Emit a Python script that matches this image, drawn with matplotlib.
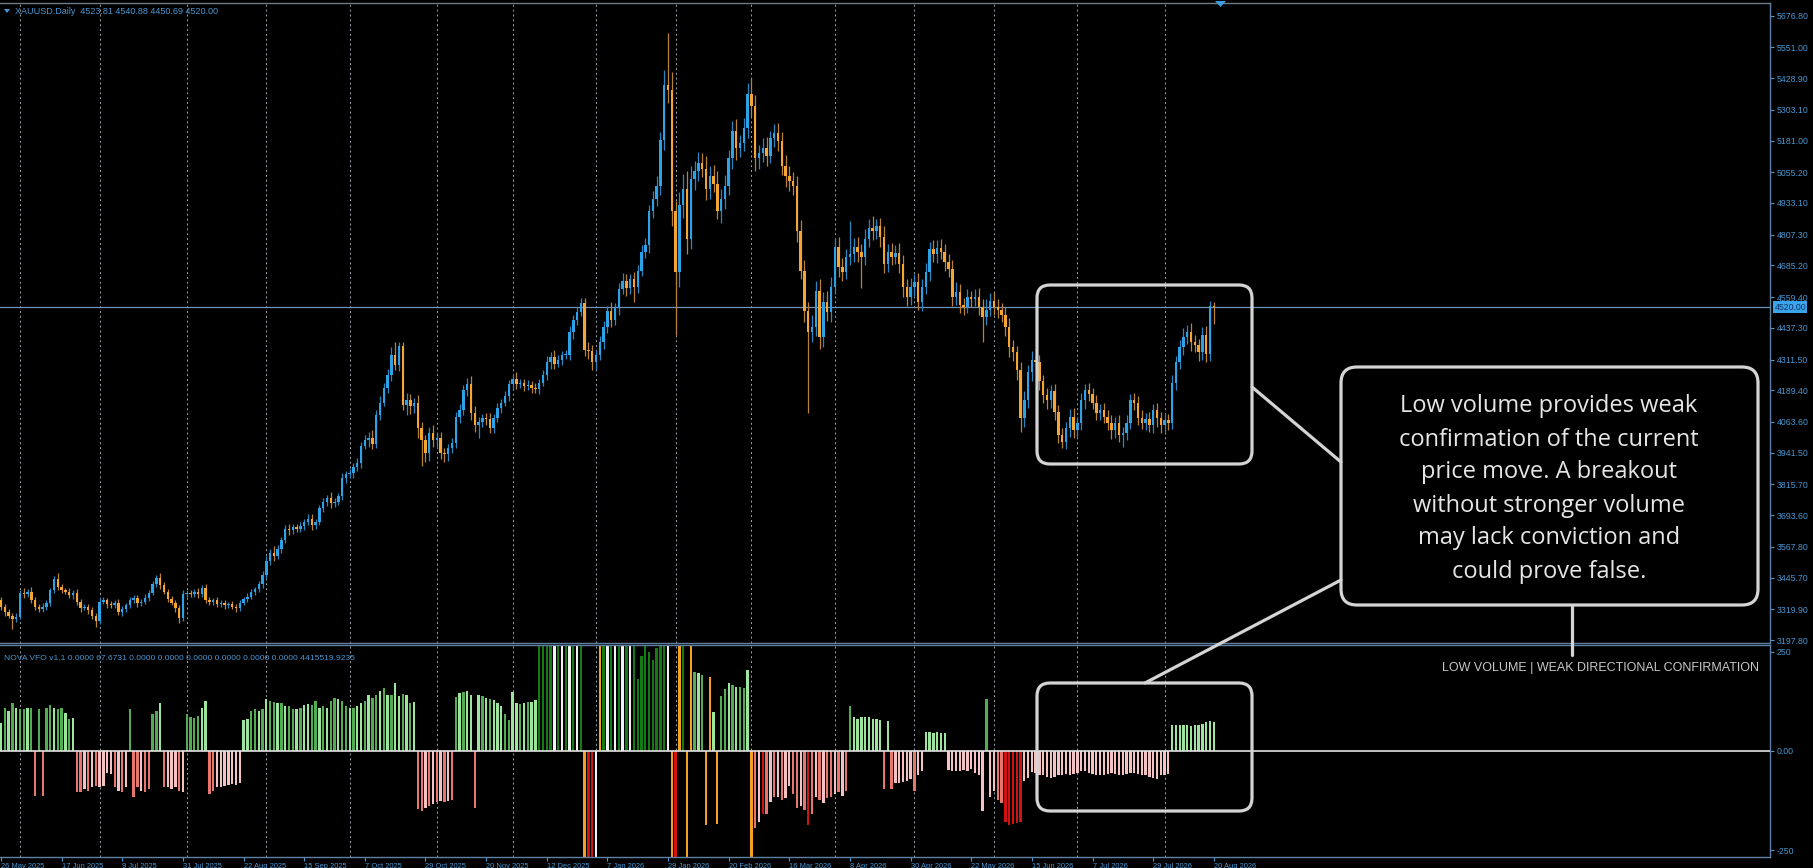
import matplotlib.pyplot as plt
from matplotlib.patches import FancyBboxPatch, Polygon
from matplotlib.lines import Line2D
from matplotlib.transforms import IdentityTransform, blended_transform_factory

# ---- price data (daily bars, index 0 = 26 May 2025) ----
closes = [
    3330, 3310, 3295, 3280, 3290, 3385, 3380, 3390, 3355, 3330,
    3320, 3330, 3345, 3395, 3440, 3410, 3395, 3390, 3375, 3385,
    3350, 3325, 3330, 3315, 3295, 3275, 3350, 3355, 3340, 3335,
    3345, 3310, 3320, 3335, 3355, 3365, 3345, 3350, 3365, 3385,
    3420, 3445, 3415, 3390, 3360, 3345, 3325, 3285, 3380, 3385,
    3380, 3390, 3380, 3405, 3355, 3350, 3355, 3340, 3345, 3335,
    3340, 3330, 3325, 3345, 3360, 3370, 3390, 3400, 3420, 3455,
    3510, 3545, 3530, 3560, 3595, 3640, 3635, 3645, 3640, 3650,
    3665, 3680, 3655, 3665, 3720, 3745, 3760, 3740, 3745, 3770,
    3840, 3855, 3860, 3885, 3900, 3970, 3990, 4000, 3975, 4090,
    4140, 4200, 4250, 4330, 4290, 4365, 4130, 4150, 4125, 4140,
    4040, 3990, 3940, 4020, 3990, 4000, 3940, 3935, 3960, 3980,
    4085, 4110, 4190, 4215, 4100, 4050, 4065, 4080, 4075, 4040,
    4080, 4120, 4140, 4165, 4215, 4235, 4215, 4220, 4205, 4210,
    4200, 4195, 4220, 4250, 4300, 4320, 4295, 4310, 4330, 4330,
    4420, 4470, 4500, 4535, 4350, 4345, 4300, 4330, 4380, 4440,
    4505, 4470, 4515, 4590, 4625, 4595, 4630, 4600, 4665, 4740,
    4765, 4900, 4950, 5000, 5185, 5400, 5380, 4900, 4660, 4925,
    4990, 4790, 5030, 5060, 5090, 5070, 4990, 5040, 5010, 4900,
    4950, 5000, 5110, 5220, 5150, 5170, 5230, 5365, 5320, 5110,
    5130, 5150, 5120, 5190, 5210, 5180, 5080, 5040, 5020, 5000,
    4820, 4665, 4505, 4420, 4440, 4585, 4400, 4540, 4500, 4600,
    4760, 4680, 4660, 4720, 4730, 4760, 4740, 4720, 4790, 4835,
    4820, 4840, 4800, 4690, 4740, 4720, 4735, 4690, 4600, 4560,
    4600, 4620, 4540, 4600, 4660, 4750, 4730, 4755, 4740, 4700,
    4670, 4560, 4580, 4530, 4520, 4560, 4550, 4560, 4520, 4480,
    4510, 4545, 4520, 4510, 4490, 4440, 4360, 4340, 4270, 4080,
    4150, 4260, 4310, 4300, 4225, 4170, 4150, 4185, 4105, 4010,
    3985, 4040, 4085, 4030, 4060, 4150, 4190, 4175, 4140, 4100,
    4110, 4085, 4060, 4030, 4060, 4010, 4020, 4060, 4150, 4140,
    4080, 4060, 4075, 4050, 4110, 4080, 4050, 4070, 4060, 4220,
    4300, 4360, 4400, 4420, 4380, 4370, 4340, 4410, 4335, 4523.81,
    4520.00,
]
first_open = 3355
opens = [first_open] + closes[:-1]

wick_up = [
    15, 10, 12, 10, 15, 12, 18, 10, 20, 12,
    10, 15, 12, 10, 12, 25, 12, 10, 15, 12,
    15, 10, 12, 10, 12, 10, 15, 12, 10, 12,
    10, 15, 12, 10, 15, 12, 10, 12, 15, 10,
    12, 10, 20, 12, 10, 12, 10, 12, 15, 12,
    10, 12, 15, 10, 15, 12, 10, 12, 10, 12,
    10, 12, 10, 12, 10, 15, 12, 10, 12, 15,
    20, 15, 25, 15, 12, 15, 20, 15, 12, 15,
    15, 18, 20, 15, 12, 18, 15, 25, 15, 12,
    20, 15, 18, 15, 20, 15, 20, 25, 30, 20,
    25, 20, 25, 30, 50, 15, 15, 30, 25, 20,
    30, 25, 20, 25, 30, 20, 25, 20, 15, 20,
    20, 25, 20, 25, 30, 25, 20, 15, 20, 25,
    15, 20, 15, 20, 15, 20, 25, 15, 15, 20,
    15, 20, 15, 20, 25, 20, 30, 20, 15, 20,
    25, 20, 20, 20, 20, 30, 25, 20, 25, 25,
    20, 35, 20, 25, 30, 25, 20, 30, 20, 25,
    30, 25, 30, 40, 30, 60, 210, 75, 40, 50,
    60, 70, 50, 40, 45, 40, 50, 40, 45, 50,
    40, 45, 35, 40, 45, 35, 40, 45, 65, 40,
    35, 40, 45, 30, 35, 40, 35, 45, 40, 35,
    40, 45, 40, 35, 50, 40, 45, 40, 45, 40,
    35, 40, 35, 30, 130, 35, 40, 30, 40, 35,
    45, 30, 35, 40, 30, 35, 30, 40, 35, 30,
    35, 30, 35, 30, 35, 30, 35, 30, 35, 30,
    30, 35, 40, 30, 25, 30, 25, 30, 35, 30,
    40, 30, 35, 30, 25, 30, 35, 30, 25, 30,
    35, 30, 35, 40, 30, 25, 30, 25, 30, 25,
    30, 25, 30, 35, 25, 30, 25, 30, 25, 30,
    25, 30, 25, 30, 25, 30, 25, 30, 25, 30,
    25, 30, 25, 30, 25, 30, 25, 30, 25, 30,
    25, 30, 35, 30, 35, 30, 25, 30, 35, 20,
    17.07,
]
wick_dn = [
    12, 15, 10, 37, 12, 10, 15, 12, 10, 15,
    12, 10, 15, 12, 10, 15, 12, 10, 12, 15,
    12, 15, 10, 12, 15, 25, 12, 10, 15, 12,
    10, 12, 15, 10, 12, 10, 15, 12, 10, 12,
    10, 12, 15, 10, 12, 10, 15, 20, 12, 10,
    12, 10, 15, 12, 10, 15, 12, 10, 12, 15,
    12, 10, 15, 12, 10, 12, 10, 12, 10, 15,
    12, 15, 20, 12, 15, 12, 20, 15, 12, 15,
    15, 12, 20, 15, 12, 15, 15, 20, 15, 12,
    15, 20, 15, 20, 15, 20, 15, 25, 20, 15,
    20, 15, 20, 25, 20, 25, 20, 40, 30, 25,
    40, 100, 35, 30, 25, 30, 25, 30, 25, 20,
    20, 25, 20, 25, 30, 25, 50, 20, 25, 20,
    20, 15, 20, 15, 20, 25, 20, 15, 20, 15,
    20, 15, 20, 15, 20, 25, 20, 15, 20, 15,
    20, 25, 20, 15, 25, 30, 30, 25, 20, 25,
    25, 30, 20, 25, 20, 30, 25, 60, 25, 20,
    25, 30, 25, 30, 35, 40, 50, 60, 250, 60,
    50, 60, 40, 45, 40, 35, 45, 40, 35, 30,
    45, 40, 35, 40, 45, 35, 30, 40, 45, 50,
    40, 35, 40, 30, 35, 40, 35, 45, 40, 35,
    40, 35, 45, 320, 40, 35, 45, 40, 35, 40,
    30, 40, 35, 30, 35, 30, 40, 125, 35, 30,
    35, 30, 40, 35, 30, 35, 30, 35, 40, 35,
    30, 35, 30, 35, 30, 35, 30, 35, 30, 35,
    30, 35, 30, 35, 30, 25, 30, 25, 30, 100,
    30, 25, 30, 35, 30, 35, 40, 35, 40, 55,
    35, 30, 35, 30, 35, 30, 35, 30, 35, 30,
    25, 30, 35, 30, 25, 30, 35, 30, 25, 30,
    30, 25, 30, 35, 30, 25, 45, 30, 25, 30,
    30, 25, 30, 25, 30, 35, 30, 25, 30, 25,
    30, 25, 30, 25, 35, 30, 35, 30, 35, 30,
    69.31,
]

# ---- NOVA VFO histogram ----
vfo = (
    [70, 109, 100, 121, 109, 105, 105, 109, 109] + [-113] + [105] + [-113]
    + [109, 115, 109, 105, 107, 96, 80, 84]
    + [-105, -105, -96, -100, -92, -88, -92, -88, -55, -59, -92, -100, -105, -92]
    + [105] + [-117, -92, -100, -105, -96] + [94, 100, 120]
    + [-92, -92, -96, -92, -100, -105] + [92, 85, 82, 88, 109, 126]
    + [-109, -100, -92, -90, -88, -85, -84, -85, -80]
    + [77, 80, 100, 105, 100, 105, 130, 126, 122, 121,
       121, 113, 113, 105, 105, 109, 115, 117, 115, 126,
       109, 113, 109, 126, 134, 130, 126, 113, 109, 109,
       113, 121, 126, 142, 134, 142, 150, 159, 142, 142,
       172, 138, 144, 142, 121, 124]
    + [-147, -151, -143, -138, -134, -130, -127, -130, -127, -125]
    + [135, 145, 148, 150, 140] + [-145]
    + [141, 138, 134, 131, 127, 120, 113, 92, 78, 148, 120, 118, 120, 122, 124, 127]
    + [300] * 12 + [-300, -300, -300, -300] + [300] + [300] * 9
    + [180, 240, 300, 250, 230, 260, 300, 300]
    + [300, -300, -300, 300, 300, -300, 300]
    + [200, 195, 190] + [-187, 187, 99, -184]
    + [138, 155, 170, 165, 162, 160, 158, 204] + [-270]
    + [-194, -180, -160, -159, -130, -117, -117, -124, -120, -89,
       -110, -145, -140, -150, -187, -159, -117, -125, -131, -120]
    + [-117, -110, -105, -115, -100]
    + [113, 85, 80, 85, 85, 85, 80, 80, 78] + [-96] + [75]
    + [-96, -82, -80, -78, -75, -70, -100, -60, -50]
    + [47, 47, 45, 47, 45, 45]
    + [-48, -50, -52, -50, -48, -52, -45, -55, -60, -152]
    + [131] + [-117, -100, -125, -131] + [-180, -187, -185, -183, -180]
    + [-75, -68, -54]
    + [-55, -60, -62, -65, -68, -66, -62, -60, -58, -60,
       -58, -56, -52, -50, -55, -58, -60, -62, -60, -58,
       -56, -58, -60, -62, -58, -55, -57, -58, -60, -62,
       -65, -68, -70, -62, -60, -58]
    + [64, 66, 64, 64, 66, 62, 64, 66, 68, 72, 75, 72]
)
vfo_kind = (
    "gmgmgmmgm" + "r" + "m" + "r" + "mmgmmgmg" + "rrprprpppprprp" + "m" + "rrprr"
    + "mmg" + "rppprp" + "mmmmgg" + "rrppppppp"
    + "ggmmgmgmmgmgmmgmggmmgmgmmgmmgmggmgmmgmgmggmgmg"
    + "rrprprprpr" + "mgmgg" + "r" + "gmgmgggmmggmgmgg"
    + "ddddwdwdwdwd" + "oRRw" + "o" + "dwdwdwdwd" + "dddddddd"
    + "woRodoo" + "mgm" + "oogo" + "mmgmgmmg" + "o"
    + "rpRrprprpprrprRrprpr" + "rprpr" + "mgggggggg" + "r" + "g"
    + "rppppprpp" + "gggggg" + "pppppppppp" + "m" + "pprr" + "RRRRR" + "ppp"
    + "p" * 36 + "g" * 12
)
kind_color = {'g': '#9de49d', 'm': '#52ad52', 'd': '#147a14', 'w': '#f2f2f2',
              'p': '#f4c2c2', 'r': '#e9766c', 'R': '#d21212', 'o': '#f5a020'}

price_ticks = [5676.80, 5551.00, 5428.90, 5303.10, 5181.00, 5055.20, 4933.10,
               4807.30, 4685.20, 4559.40, 4437.30, 4311.50, 4189.40, 4063.60,
               3941.50, 3815.70, 3693.60, 3567.80, 3445.70, 3319.90, 3197.80]
vfo_ticks = [250, 0, -250]
vfo_tick_labels = ['250', '0.00', '-250']
date_labels = ['26 May 2025', '17 Jun 2025', '9 Jul 2025', '31 Jul 2025', '22 Aug 2025',
               '15 Sep 2025', '7 Oct 2025', '29 Oct 2025', '20 Nov 2025', '12 Dec 2025',
               '7 Jan 2026', '29 Jan 2026', '20 Feb 2026', '16 Mar 2026', '8 Apr 2026',
               '30 Apr 2026', '22 May 2026', '15 Jun 2026', '7 Jul 2026', '29 Jul 2026',
               '20 Aug 2026']
date_bars = [16 * k for k in range(len(date_labels))]
month_start_bars = [5, 26, 49, 70, 92, 115, 135, 157, 178, 198, 220, 241, 262, 284, 307]
last_price = 4520.00

n = len(closes)
assert len(wick_up) == n and len(wick_dn) == n and len(vfo) == n and len(vfo_kind) == n

W, H = 1813, 868
AXC = '#4a97d2'
fig = plt.figure(figsize=(W / 100, H / 100), dpi=100, facecolor='black')


def fx(px):
    return px / W


def fy(py):
    return 1 - py / H


ax = fig.add_axes([0, fy(643), fx(1770), fy(3) - fy(643)])
ax2 = fig.add_axes([0, fy(857), fx(1770), fy(645) - fy(857)])
xl = (-1 / 3.79, 1769 / 3.79)

for a in (ax, ax2):
    a.set_facecolor('black')
    a.set_xlim(*xl)
    a.spines['left'].set_visible(False)
    for s in ('top', 'bottom', 'right'):
        a.spines[s].set_color('#5f80a3')
        a.spines[s].set_linewidth(1.0)
    a.yaxis.tick_right()
    a.tick_params(axis='y', direction='out', length=3, width=0.8, color=AXC,
                  labelcolor=AXC, labelsize=6.3, pad=2)
    for b in month_start_bars:
        a.axvline(b, color='#9aa6b2', lw=0.7, ls=(0, (2, 3)), zorder=0)
ax.spines['top'].set_color('#6f7c88')

# candles
idx = list(range(n))
bull = '#2ea2e6'
bear = '#f4a534'
body_col, wick_col, bot, hgt, highs, lows = [], [], [], [], [], []
for o, c, wu, wd in zip(opens, closes, wick_up, wick_dn):
    up = c >= o
    body_col.append(bull if up else bear)
    wick_col.append('#2a86c0' if up else '#b98334')
    bot.append(min(o, c))
    hgt.append(max(abs(c - o), 4))
    highs.append(max(o, c) + wu)
    lows.append(min(o, c) - wd)
ax.vlines(idx, lows, highs, colors=wick_col, lw=0.9, zorder=2)
ax.bar(idx, hgt, bottom=bot, width=0.64, color=body_col, linewidth=0, zorder=3)
ax.axhline(last_price, color='#6f93b8', lw=0.9, zorder=1)
ax.set_ylim(3185.9, 5727.2)
ax.set_yticks(price_ticks)
ax.set_yticklabels(['%.2f' % v for v in price_ticks], family='Liberation Sans')
ax.set_xticks([])
tr = blended_transform_factory(ax.transAxes, ax.transData)
ax.text(1.0025, last_price, '%.2f' % last_price, transform=tr, ha='left', va='center',
        fontsize=6.3, color='#0c3262', family='Liberation Sans',
        bbox=dict(facecolor='#3aa4ec', edgecolor='none', pad=0.9))

# VFO histogram
ax2.bar(idx, vfo, width=0.62, color=[kind_color[k] for k in vfo_kind], linewidth=0, zorder=2)
ax2.axhline(0, color='#e2e2e2', lw=1.2, zorder=3)
ax2.set_ylim(-267.6, 266.8)
ax2.set_yticks(vfo_ticks)
ax2.set_yticklabels(vfo_tick_labels, family='Liberation Sans')
ax2.set_xticks(date_bars)
ax2.set_xticklabels(date_labels, ha='left', family='Liberation Sans')
ax2.tick_params(axis='x', direction='out', length=3, width=0.8, color=AXC,
                labelcolor=AXC, labelsize=5.4, pad=1)

# header texts
fig.text(fx(15), fy(11), 'XAUUSD.Daily  4523.81 4540.88 4450.69 4520.00', color=AXC,
         fontsize=6.5, va='center', family='Liberation Sans')
fig.text(fx(4), fy(659), 'NOVA VFO v1.1 0.0000 67.6731 0.0000 0.0000 0.0000 0.0000 '
         '0.0000 0.0000 4415519.9235', color=AXC, fontsize=6.1, va='center',
         family='Liberation Sans')
idt = IdentityTransform()
fig.add_artist(Polygon([[4, H - 9], [10, H - 9], [7, H - 13]], closed=True,
                       facecolor=AXC, edgecolor='none', transform=idt))
fig.add_artist(Polygon([[1215, H - 1], [1226, H - 1], [1220.5, H - 7]], closed=True,
                       facecolor='#3a9ee0', edgecolor='none', transform=idt))

# annotation shapes (pixel coordinates)
GREY = '#d4d4d4'


def rbox(x0, y0, x1, y1, r, fc='none'):
    p = FancyBboxPatch((x0, H - y1), x1 - x0, y1 - y0,
                       boxstyle='round,pad=0,rounding_size=%d' % r,
                       facecolor=fc, edgecolor=GREY, lw=2.3, transform=idt)
    fig.add_artist(p)


def seg(x0, y0, x1, y1):
    fig.add_artist(Line2D([x0, x1], [H - y0, H - y1], color=GREY, lw=2.3,
                          transform=idt, solid_capstyle='round'))


rbox(1037, 285, 1252, 464, 13)
rbox(1037, 683, 1252, 811, 13)
seg(1252, 387, 1341, 462)
seg(1145, 683, 1341, 580)
seg(1572, 605, 1572, 655)
rbox(1341, 367, 1758, 605, 16, fc='black')

callout = ("Low volume provides weak\nconfirmation of the current\nprice move. A breakout\n"
           "without stronger volume\nmay lack conviction and\ncould prove false.")
fig.text(fx(1549), fy(489), callout, ha='center', va='center', fontsize=17,
         linespacing=1.5, color='#e6e6e6', family='Open Sans')
fig.text(fx(1759), fy(668), 'LOW VOLUME | WEAK DIRECTIONAL CONFIRMATION', ha='right',
         va='center', fontsize=9, color='#c8c8c8', family='Liberation Sans')

fig.savefig('out.png', dpi=100, facecolor='black')
